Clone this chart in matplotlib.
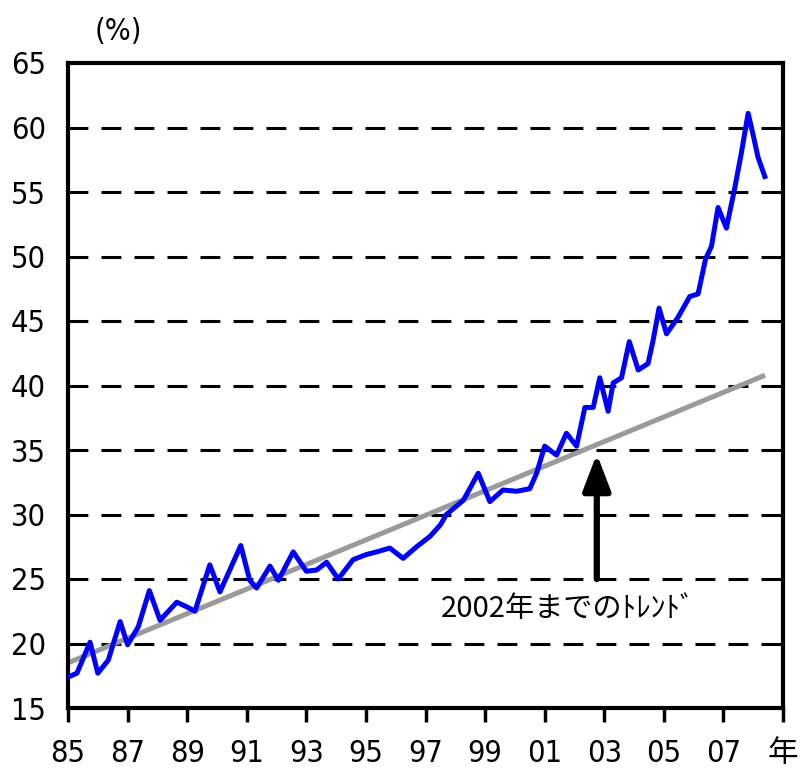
import matplotlib
matplotlib.use("Agg")
import matplotlib.pyplot as plt

# ---- data ----
years = [1985.0, 1985.3, 1985.74, 1986.0, 1986.35, 1986.75, 1987.0, 1987.36, 1987.73, 1988.09,
         1988.65, 1988.98, 1989.26, 1989.76, 1990.1, 1990.8, 1991.1, 1991.33, 1991.78, 1992.06,
         1992.56, 1993.0, 1993.35, 1993.68, 1994.07, 1994.57, 1995.02, 1995.36, 1995.8, 1996.25,
         1996.7, 1997.15, 1997.5, 1997.7, 1998.27, 1998.77, 1999.16, 1999.6, 2000.06, 2000.5,
         2000.73, 2001.0, 2001.4, 2001.73, 2002.07, 2002.35, 2002.63, 2002.85, 2003.13, 2003.3,
         2003.58, 2003.84, 2004.14, 2004.47, 2004.64, 2004.84, 2005.09, 2005.48, 2005.87, 2006.15,
         2006.4, 2006.6, 2006.82, 2007.1, 2007.38, 2007.6, 2007.83, 2008.0, 2008.16, 2008.39]
values = [17.4, 17.7, 20.1, 17.7, 18.7, 21.7, 19.9, 21.3, 24.1, 21.8,
          23.2, 22.85, 22.5, 26.1, 24.0, 27.6, 24.9, 24.3, 26.0, 24.9,
          27.1, 25.6, 25.7, 26.3, 25.0, 26.5, 26.9, 27.1, 27.4, 26.6,
          27.5, 28.3, 29.2, 30.0, 31.1, 33.2, 31.0, 31.9, 31.8, 32.0,
          33.2, 35.3, 34.6, 36.3, 35.3, 38.3, 38.3, 40.6, 38.0, 40.2,
          40.6, 43.4, 41.2, 41.7, 43.5, 46.0, 44.0, 45.3, 46.9, 47.1,
          49.8, 50.8, 53.8, 52.2, 55.3, 58.0, 61.1, 59.4, 57.7, 56.2]

trend_years = [1985.0, 2008.4]
trend_values = [18.5, 40.8]

xtick_pos = [1985, 1987, 1989, 1991, 1993, 1995, 1997, 1999, 2001, 2003, 2005, 2007, 2009]
xtick_labels = ["85", "87", "89", "91", "93", "95", "97", "99", "01", "03", "05", "07", "年"]
ytick_pos = [15, 20, 25, 30, 35, 40, 45, 50, 55, 60, 65]
grid_levels = [20, 25, 30, 35, 40, 45, 50, 55, 60]

arrow_x = 2002.75
arrow_from = 25.0
arrow_to = 34.7
note_text = "2002年までのﾄﾚﾝﾄﾞ"
unit_text = "(%)"

FONT = ["DejaVu Sans", "Noto Sans CJK JP"]
plt.rcParams["font.family"] = FONT

fig = plt.figure(figsize=(8.07, 7.79), dpi=100)
ax = fig.add_axes([68/807, 71/779, (783-68)/807, (708-63)/779])

for g in grid_levels:
    ax.axhline(g, color="black", lw=2.2, linestyle=(0, (6.5, 4.3)), zorder=1)

ax.plot(trend_years, trend_values, color="#9a9a9a", lw=3.6, zorder=2, solid_capstyle="butt")
ax.plot(years, values, color="#0000ff", lw=3.6, zorder=3)

ax.annotate("", xy=(arrow_x, arrow_to), xytext=(arrow_x, arrow_from),
            arrowprops=dict(arrowstyle="-|>,head_length=1.1,head_width=0.42",
                            lw=4.5, color="black", mutation_scale=20,
                            shrinkA=0, shrinkB=0), zorder=4)
ax.text(2001.78, 22.67, note_text, ha="center", va="center", fontsize=21,
        family=["Noto Sans CJK JP", "DejaVu Sans"], zorder=5)

ax.set_xlim(1985, 2009)
ax.set_ylim(15, 65)
ax.set_xticks(xtick_pos)
ax.set_xticklabels(xtick_labels, family=["DejaVu Sans", "Noto Sans CJK JP"],
                   fontstretch="condensed")
ax.set_yticks(ytick_pos)
ax.set_yticklabels([str(v) for v in ytick_pos], fontstretch="condensed")
ax.tick_params(axis="x", direction="out", length=10, width=2.5, pad=12, labelsize=22)
ax.tick_params(axis="y", length=0, pad=16, labelsize=22)
for s in ax.spines.values():
    s.set_linewidth(3)
    s.set_color("black")

fig.text(118/807, 1 - 32/779, unit_text, ha="center", va="center", fontsize=22,
         fontstretch="condensed")

fig.savefig("out.png", dpi=100)
